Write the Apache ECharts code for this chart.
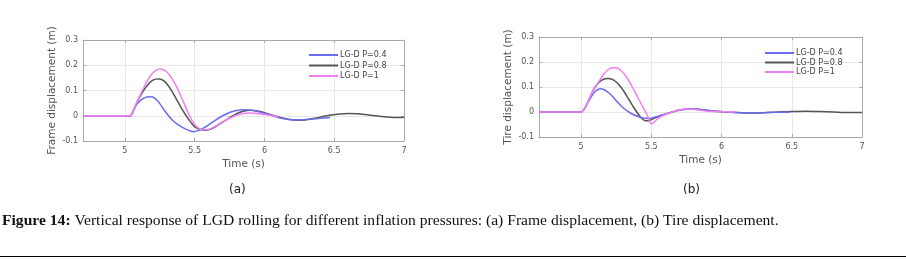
<!DOCTYPE html>
<html>
<head>
<meta charset="utf-8">
<script src="https://cdn.jsdelivr.net/npm/echarts@6/dist/echarts.min.js"></script>
<style>
html,body{margin:0;padding:0;background:#fff;}
#c{width:906px;height:259px;}
</style>
</head>
<body>
<div id="c"></div>
<script>
// ---------- data ----------
const seriesNames = ['LG-D P=0.4', 'LG-D P=0.8', 'LG-D P=1'];
const xTickValues = [5, 5.5, 6, 6.5, 7];
const yTickValues = [-0.1, 0, 0.1, 0.2, 0.3];

// (a) Frame displacement
const frameT04 = [4.7,5.0,5.04,5.06,5.08,5.1,5.13,5.16,5.19,5.22,5.25,5.28,5.31,5.34,5.37,5.4,5.43,5.46,5.49,5.52,5.56,5.6,5.65,5.7,5.75,5.8,5.86,5.92,5.98,6.04,6.1,6.16,6.22,6.28,6.34,6.4,6.47];
const frameV04 = [0,0,0,0.018,0.04,0.055,0.068,0.074,0.075,0.067,0.048,0.024,0.002,-0.017,-0.031,-0.042,-0.051,-0.058,-0.063,-0.06,-0.05,-0.036,-0.017,0,0.013,0.021,0.024,0.021,0.013,0.003,-0.007,-0.014,-0.017,-0.016,-0.013,-0.01,-0.007];
const frameT08 = [4.7,5.0,5.04,5.06,5.08,5.1,5.13,5.16,5.19,5.22,5.25,5.28,5.31,5.34,5.37,5.4,5.43,5.46,5.49,5.52,5.55,5.58,5.62,5.66,5.7,5.75,5.8,5.85,5.9,5.95,6.0,6.06,6.12,6.18,6.24,6.3,6.36,6.42,6.48,6.54,6.6,6.66,6.72,6.78,6.84,6.9,6.96,7.0];
const frameV08 = [0,0,0,0.02,0.045,0.068,0.097,0.12,0.137,0.145,0.146,0.138,0.12,0.095,0.065,0.035,0.008,-0.017,-0.038,-0.05,-0.056,-0.057,-0.052,-0.04,-0.025,-0.008,0.008,0.018,0.022,0.019,0.012,0.002,-0.008,-0.015,-0.018,-0.016,-0.01,-0.003,0.003,0.007,0.009,0.008,0.005,0.001,-0.003,-0.006,-0.007,-0.006];
const frameT1 = [4.7,5.0,5.04,5.06,5.08,5.1,5.13,5.16,5.19,5.22,5.25,5.28,5.31,5.34,5.37,5.4,5.43,5.46,5.49,5.52,5.55,5.58,5.62,5.66,5.7,5.75,5.8,5.85,5.9,5.95,6.0,6.05,6.1];
const frameV1 = [0,0,0,0.02,0.045,0.07,0.105,0.138,0.163,0.179,0.185,0.182,0.168,0.145,0.115,0.08,0.042,0.004,-0.027,-0.046,-0.054,-0.055,-0.05,-0.038,-0.024,-0.01,0.002,0.009,0.011,0.009,0.005,0.001,-0.003];

// (b) Tire displacement
const tireT04 = [4.7,5.0,5.02,5.04,5.06,5.08,5.1,5.12,5.14,5.16,5.19,5.22,5.25,5.28,5.31,5.34,5.37,5.4,5.43,5.46,5.49,5.52,5.56,5.6,5.65,5.7,5.75,5.8,5.85,5.9,5.95,6.0,6.1,6.2,6.3,6.4,6.49];
const tireV04 = [0,0,0.01,0.03,0.05,0.068,0.082,0.09,0.093,0.09,0.08,0.064,0.045,0.027,0.012,0,-0.01,-0.017,-0.022,-0.025,-0.025,-0.021,-0.015,-0.008,0,0.007,0.011,0.012,0.01,0.007,0.004,0.002,-0.002,-0.004,-0.003,-0.001,0];
const tireT08 = [4.7,5.0,5.02,5.04,5.06,5.08,5.1,5.13,5.16,5.19,5.22,5.25,5.28,5.31,5.34,5.37,5.4,5.43,5.46,5.49,5.52,5.56,5.6,5.65,5.7,5.75,5.8,5.85,5.9,5.95,6.0,6.1,6.2,6.3,6.4,6.5,6.6,6.7,6.8,6.9,7.0];
const tireV08 = [0,0,0.01,0.03,0.055,0.08,0.1,0.12,0.131,0.134,0.131,0.12,0.102,0.078,0.05,0.022,-0.003,-0.025,-0.035,-0.033,-0.025,-0.017,-0.009,0,0.008,0.012,0.013,0.01,0.006,0.003,0.001,-0.002,-0.004,-0.003,0,0.002,0.003,0.002,0,-0.002,-0.002];
const tireT1 = [4.7,5.0,5.02,5.04,5.06,5.08,5.1,5.13,5.16,5.19,5.22,5.25,5.28,5.31,5.34,5.37,5.4,5.43,5.46,5.48,5.5,5.52,5.55,5.6,5.65,5.7,5.75,5.8,5.85,5.9,5.95,6.0,6.1];
const tireV1 = [0,0,0.01,0.03,0.055,0.08,0.1,0.125,0.15,0.168,0.177,0.177,0.168,0.15,0.125,0.095,0.062,0.03,0,-0.025,-0.048,-0.04,-0.025,-0.01,0,0.008,0.012,0.011,0.007,0.003,0.002,0.001,0];

// ---------- build ----------
const colors = ['#6b6bf0', '#555555', '#f27ef2'];
const zip = (t, v) => t.map((x, i) => [x, v[i]]);
const FONT = 'DejaVu Sans';

const grids = [
  {left: 83, top: 40, width: 321, height: 101},
  {left: 539, top: 37, width: 323, height: 100}
];

function xAx(gi, top) {
  return {
    type: 'value', gridIndex: gi, min: 4.7, max: 7,
    position: top ? 'top' : 'bottom',
    name: top ? '' : 'Time (s)', nameLocation: 'middle', nameGap: 18,
    nameTextStyle: {fontFamily: FONT, fontSize: 10.5, color: '#555'},
    axisLine: {show: true, onZero: false, lineStyle: {color: '#a8a8a8', width: 1}},
    axisTick: {show: true, inside: true, length: 3, customValues: xTickValues, lineStyle: {color: '#a8a8a8'}},
    axisLabel: {show: !top, customValues: xTickValues, fontFamily: FONT, fontSize: 8, color: '#555', margin: 6},
    splitLine: {show: !top, lineStyle: {color: '#e8e8e8', width: 1}}
  };
}
function yAx(gi, right, name) {
  return {
    type: 'value', gridIndex: gi, min: -0.1, max: 0.3, interval: 0.1,
    position: right ? 'right' : 'left',
    name: right ? '' : name, nameLocation: 'middle', nameGap: 25,
    nameTextStyle: {fontFamily: FONT, fontSize: 10.5, color: '#555'},
    axisLine: {show: true, onZero: false, lineStyle: {color: '#a8a8a8', width: 1}},
    axisTick: {show: true, inside: true, length: 3, lineStyle: {color: '#a8a8a8'}},
    axisLabel: {show: !right, fontFamily: FONT, fontSize: 8, color: '#555', margin: 5,
      formatter: v => (Math.round(v * 10) / 10).toString()},
    splitLine: {show: !right, lineStyle: {color: '#e8e8e8', width: 1}}
  };
}

const dataSets = [
  [zip(frameT04, frameV04), zip(frameT08, frameV08), zip(frameT1, frameV1)],
  [zip(tireT04, tireV04), zip(tireT08, tireV08), zip(tireT1, tireV1)]
];
const series = [];
dataSets.forEach((sets, gi) => {
  sets.forEach((d, k) => {
    series.push({
      type: 'line', name: seriesNames[k], xAxisIndex: gi, yAxisIndex: gi,
      data: d, smooth: 0.3, showSymbol: false, symbol: 'none',
      lineStyle: {color: colors[k], width: 1.5}, itemStyle: {color: colors[k]},
      z: 2 + (k === 0 ? 2 : k === 1 ? 1 : 3), animation: false
    });
  });
});

function legend(left, top, gap) {
  return {
    orient: 'vertical', left: left, top: top, data: seriesNames,
    icon: 'rect', itemWidth: 29, itemHeight: 2, itemGap: gap,
    selectedMode: false,
    textStyle: {fontFamily: FONT, fontSize: 8, color: '#444', padding: [0, 0, 0, -3]},
    padding: 0
  };
}

const option = {
  animation: false,
  backgroundColor: '#fff',
  grid: grids,
  xAxis: [xAx(0, false), xAx(1, false), xAx(0, true), xAx(1, true)],
  yAxis: [yAx(0, false, 'Frame displacement (m)'), yAx(1, false, 'Tire displacement (m)'), yAx(0, true), yAx(1, true)],
  legend: [legend(309, 51, 2.5), legend(765, 49, 1.5)],
  series: series,
  graphic: [
    {type: 'text', left: 229, top: 184, style: {text: '(a)', font: '12px "DejaVu Sans"', fill: '#222'}},
    {type: 'text', left: 683, top: 184, style: {text: '(b)', font: '12px "DejaVu Sans"', fill: '#222'}},
    {type: 'text', left: 2, top: 213, style: {
      text: '{b|Figure 14:} Vertical response of LGD rolling for different inflation pressures: (a) Frame displacement, (b) Tire displacement.',
      font: '15.6px "Liberation Serif"', fill: '#111',
      rich: {b: {fontWeight: 'bold', fontFamily: 'Liberation Serif', fontSize: 15.6, fill: '#111'}}
    }},
    {type: 'line', shape: {x1: 0, y1: 256.5, x2: 906, y2: 256.5}, style: {stroke: '#000', lineWidth: 1}}
  ]
};

const chart = echarts.init(document.getElementById('c'), null, {renderer: 'canvas'});
chart.setOption(option);
</script>
</body>
</html>
